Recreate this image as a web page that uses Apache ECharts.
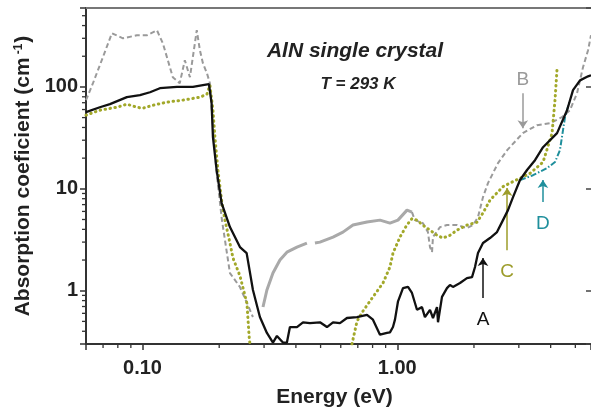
<!DOCTYPE html>
<html><head><meta charset="utf-8">
<script src="https://cdn.jsdelivr.net/npm/echarts@6.0.0/dist/echarts.min.js"></script>
<style>html,body{margin:0;padding:0;background:#fff}#c{width:591px;height:407px}</style>
</head><body><div id="c"></div>
<script>
// ---- data (energy in eV, absorption coefficient in cm^-1) ----
const blackE = [0.060,0.068,0.0745,0.0868,0.0977,0.107,0.117,0.1365,0.1577,0.1726,0.1823,0.1867,0.189,0.1954,0.2044,0.2204,0.2412,0.2563,0.2713,0.2889,0.3078,0.3251,0.337,0.3558,0.3688,0.379,0.4039,0.4265,0.4541,0.4972,0.5297,0.5594,0.5956,0.6346,0.6947,0.7604,0.8027,0.8553,0.9113,0.936,0.9619,0.9794,1.006,1.053,1.102,1.142,1.195,1.25,1.284,1.344,1.381,1.432,1.445,1.498,1.567,1.61,1.654,1.763,1.877,1.965,2.019,2.074,2.17,2.312,2.463,2.6,2.72,2.847,3.032,3.231,3.472,3.734,4.238,4.639,4.896,5.216,5.608,5.76];
const blackA = [56.5,63.2,67.7,79.3,82.9,88.7,97.1,100,100,103.9,106.3,69.2,32.1,15.25,7.24,4.21,2.68,2.34,1.016,0.552,0.385,0.31,0.36,0.31,0.31,0.44,0.44,0.49,0.48,0.49,0.44,0.49,0.48,0.54,0.55,0.58,0.52,0.37,0.385,0.39,0.44,0.52,0.78,1.06,1.09,0.95,0.65,0.69,0.55,0.65,0.54,0.69,0.49,0.87,1.06,1.14,1.09,1.19,1.33,1.36,1.71,2.35,2.94,3.29,3.76,4.93,6.18,8.29,12.2,15.3,19.1,25.6,35.2,59,93,116,127,130];

const greenE = [0.06,0.068,0.0793,0.0868,0.095,0.1003,0.1098,0.1246,0.144,0.168,0.179,0.1839,0.189,0.1924,0.1977,0.205,0.2107,0.2204,0.2264,0.2412,0.257,0.262,0.264,0.4,0.664,0.6947,0.733,0.8027,0.879,0.936,0.962,1.025,1.09,1.142,1.195,1.26,1.344,1.432,1.511,1.61,1.716,1.877,2.056,2.17,2.312,2.6,2.77,3.03,3.32,3.734,4.05,4.16,4.238];
const greenA = [52.8,59.1,63.2,67.7,63.2,61.8,66.1,70.9,74.2,79.3,84.9,103.9,59.1,32.1,15.25,7.24,4.93,2.94,2.1,1.4,0.75,0.36,0.3,null,0.3,0.5,0.63,0.87,1.19,1.71,2.34,3.37,4.4,5.1,4.93,4.4,3.93,3.5,3.29,3.5,3.93,4.4,4.7,5.8,7.75,10.5,11.4,12.7,14.2,18.3,35,74,150];

const grayLowE = [0.06,0.0639,0.0699,0.0758,0.0838,0.095,0.104,0.1139,0.1202,0.1315,0.140,0.1466,0.1535,0.1633,0.168,0.1726,0.179,0.1839,0.187,0.195,0.205,0.2204,0.2412,0.257,0.2713];
const grayLowA = [74.1,108.7,195.6,336,300,321,321,360,268,124.5,108.7,182.7,124.5,360,229,170.8,136.2,108.7,59,15,4.93,1.49,1.087,0.758,0.552];

const graySolidE = [0.2971,0.3078,0.3251,0.3463,0.3688,0.4039,0.4418,0.455,0.4752,0.4972,0.5594,0.612,0.67,0.7604,0.8553,0.936,1.006,1.092,1.142];
const graySolidA = [0.692,1.016,1.49,2.0,2.39,2.68,2.935,null,2.935,3.0,3.36,3.76,4.41,4.72,4.93,4.61,4.93,6.18,5.91];

const grayHighE = [1.142,1.172,1.26,1.319,1.344,1.369,1.381,1.471,1.567,1.716,1.877,1.983,2.074,2.17,2.27,2.375,2.485,2.70,3.11,3.536,3.98,4.433,4.76,5.077,5.359,5.608,5.76];
const grayHighA = [5.91,4.93,4.61,3.76,2.68,2.39,3.37,4.21,4.41,4.41,4.12,4.41,5.28,8.29,11.37,14.25,17.87,23.95,35.2,42.1,44.1,50.5,59.1,86.8,156,229,321];

const tealE = [3.032,3.41,3.87,4.16,4.35,4.554,4.76];
const tealA = [12.17,13.6,15.95,18.3,23.95,50.5,74.1];

// annotation arrows (label, energy, tail value, head value)
const annotLabels = ['A','B','C','D'];
const annotE = [2.17, 3.11, 2.70, 3.73];
const annotTail = [0.848, 86.8, 2.5, 7.41];
const annotHead = [2.09, 39.4, 10.2, 12.2];

// axes
const X_MIN = 0.06, X_MAX = 5.76, Y_MIN = 0.3, Y_MAX = 595;
const xTickValues = [0.1, 1];
const xTickLabels = ['0.10', '1.00'];
const yTickValues = [1, 10, 100];
const yTickLabels = ['1', '10', '100'];
const xMinorTicks = [0.07,0.08,0.09,0.2,0.3,0.4,0.5,0.6,0.7,0.8,0.9,2,3,4,5];
const yMinorTicks = [0.4,0.5,0.6,0.7,0.8,0.9,2,3,4,5,6,7,8,9,20,30,40,50,60,70,80,90,200,300,400,500];

// ---- chart ----
const FONT = '"Liberation Sans", Arial, Helvetica, sans-serif';
const COL = {black:'#111111', green:'#a2a82a', gray:'#9a9a9a', graySolid:'#a9a9a9', teal:'#1f8f9c', olive:'#9c9c2a'};

function pairs(xs, ys){ return xs.map((x,i)=>[x, ys[i]==null ? '-' : ys[i]]); }
function tickFmt(vals, labels){
  return function(v){
    for (let i=0;i<vals.length;i++){ if (Math.abs(Math.log10(v)-Math.log10(vals[i]))<1e-6) return labels[i]; }
    return '';
  };
}
function arrow(i, color, dist){
  return {
    silent:true, animation:false,
    symbol:['none','arrow'], symbolSize:8,
    lineStyle:{color:color, width:1.5, type:'solid'},
    label:{show:true, position:'start', formatter:annotLabels[i], color:color, fontSize:19, fontFamily:FONT, distance:dist},
    data:[[{coord:[annotE[i], annotTail[i]]},{coord:[annotE[i], annotHead[i]]}]]
  };
}

const chart = echarts.init(document.getElementById('c'), null, {renderer:'canvas'});
const labelStyle = {fontSize:20, fontWeight:'bold', fontFamily:FONT, color:'#222'};

chart.setOption({
  animation:false,
  backgroundColor:'#fff',
  grid:{left:86, top:8, width:505, height:336, containLabel:false, outerBoundsMode:'none'},
  xAxis:[
    {type:'log', logBase:10, min:X_MIN, max:X_MAX, position:'bottom',
     axisLine:{show:true, onZero:false, lineStyle:{color:'#333', width:2}},
     axisTick:{show:true, length:6, lineStyle:{color:'#333', width:1.5}},
     minorTick:{show:false}, splitLine:{show:false},
     axisLabel:Object.assign({formatter:tickFmt(xTickValues, xTickLabels), margin:14}, labelStyle),
     name:'Energy (eV)', nameLocation:'middle', nameGap:43,
     nameTextStyle:{fontSize:21, fontWeight:'bold', fontFamily:FONT, color:'#222', padding:[0,8,0,0]}},
    {type:'log', logBase:10, min:X_MIN, max:X_MAX, position:'top',
     axisLine:{show:true, onZero:false, lineStyle:{color:'#777', width:2}},
     axisTick:{show:false}, axisLabel:{show:false}, splitLine:{show:false}}
  ],
  yAxis:[
    {type:'log', logBase:10, min:Y_MIN, max:Y_MAX, position:'left',
     axisLine:{show:true, onZero:false, lineStyle:{color:'#333', width:2}},
     axisTick:{show:true, length:6, lineStyle:{color:'#333', width:1.5}},
     minorTick:{show:false}, splitLine:{show:false},
     axisLabel:Object.assign({formatter:tickFmt(yTickValues, yTickLabels), margin:8}, labelStyle),
     name:'{t|Absorption coeficient (cm}{s|-1}{t|)}', nameLocation:'middle', nameGap:48, nameRotate:90,
     nameTextStyle:{fontSize:21, fontWeight:'bold', fontFamily:FONT, color:'#222',
       rich:{t:{fontSize:21, fontWeight:'bold', fontFamily:FONT, color:'#222'},
             s:{fontSize:12, fontWeight:'bold', fontFamily:FONT, color:'#222', verticalAlign:'top', padding:[0,1,8,3]}}}},
    {type:'log', logBase:10, min:Y_MIN, max:Y_MAX, position:'right',
     axisLine:{show:false}, axisTick:{show:true, inside:true, length:5, lineStyle:{color:'#444', width:1.5}},
     axisLabel:{show:false}, splitLine:{show:false}}
  ],
  graphic:[
    {type:'text', x:355, y:51, silent:true,
     style:{text:'AlN single crystal', x:0, y:0, align:'center', verticalAlign:'middle', font:'italic bold 21px ' + FONT, fill:'#222'}},
    {type:'text', x:358, y:84, silent:true,
     style:{text:'T = 293 K', x:0, y:0, align:'center', verticalAlign:'middle', font:'italic bold 17px ' + FONT, fill:'#222'}}
  ],
  series:[
    {name:'B-low', type:'line', data:pairs(grayLowE, grayLowA), showSymbol:false, symbol:'none',
     lineStyle:{color:COL.gray, width:2, type:[5,3]}, z:2},
    {name:'B-mid', type:'line', data:pairs(graySolidE, graySolidA), showSymbol:false, symbol:'none',
     lineStyle:{color:COL.graySolid, width:3}, z:2},
    {name:'B', type:'line', data:pairs(grayHighE, grayHighA), showSymbol:false, symbol:'none',
     lineStyle:{color:COL.gray, width:2, type:[5,3]}, z:2, markLine:arrow(1, COL.gray, 4)},
    {name:'D', type:'line', data:pairs(tealE, tealA), showSymbol:false, symbol:'none',
     lineStyle:{color:COL.teal, width:2, type:[6,2,1.5,2]}, z:3, markLine:arrow(3, COL.teal, 12)},
    {name:'C', type:'line', data:pairs(greenE, greenA), showSymbol:false, symbol:'none', connectNulls:false,
     lineStyle:{color:COL.green, width:3, type:[0.5,4.5], cap:'round'}, z:4, markLine:arrow(2, COL.olive, 12)},
    {name:'A', type:'line', data:pairs(blackE, blackA), showSymbol:false, symbol:'none',
     lineStyle:{color:COL.black, width:2.3}, z:5, markLine:arrow(0, COL.black, 12)},
    {name:'xminor', type:'custom', silent:true, clip:false, z:6,
     data:xMinorTicks.map(v=>[v, Y_MIN]),
     renderItem:function(params, api){
       const p = api.coord([api.value(0), Y_MIN]);
       return {type:'line', shape:{x1:p[0], y1:p[1], x2:p[0], y2:p[1]+4}, style:{stroke:'#333', lineWidth:1.3}};
     }},
    {name:'yminor', type:'custom', silent:true, clip:false, z:6,
     data:yMinorTicks.map(v=>[X_MIN, v]),
     renderItem:function(params, api){
       const p = api.coord([X_MIN, api.value(1)]);
       return {type:'line', shape:{x1:p[0], y1:p[1], x2:p[0]-4, y2:p[1]}, style:{stroke:'#333', lineWidth:1.3}};
     }}
  ]
});
</script>
</body></html>
